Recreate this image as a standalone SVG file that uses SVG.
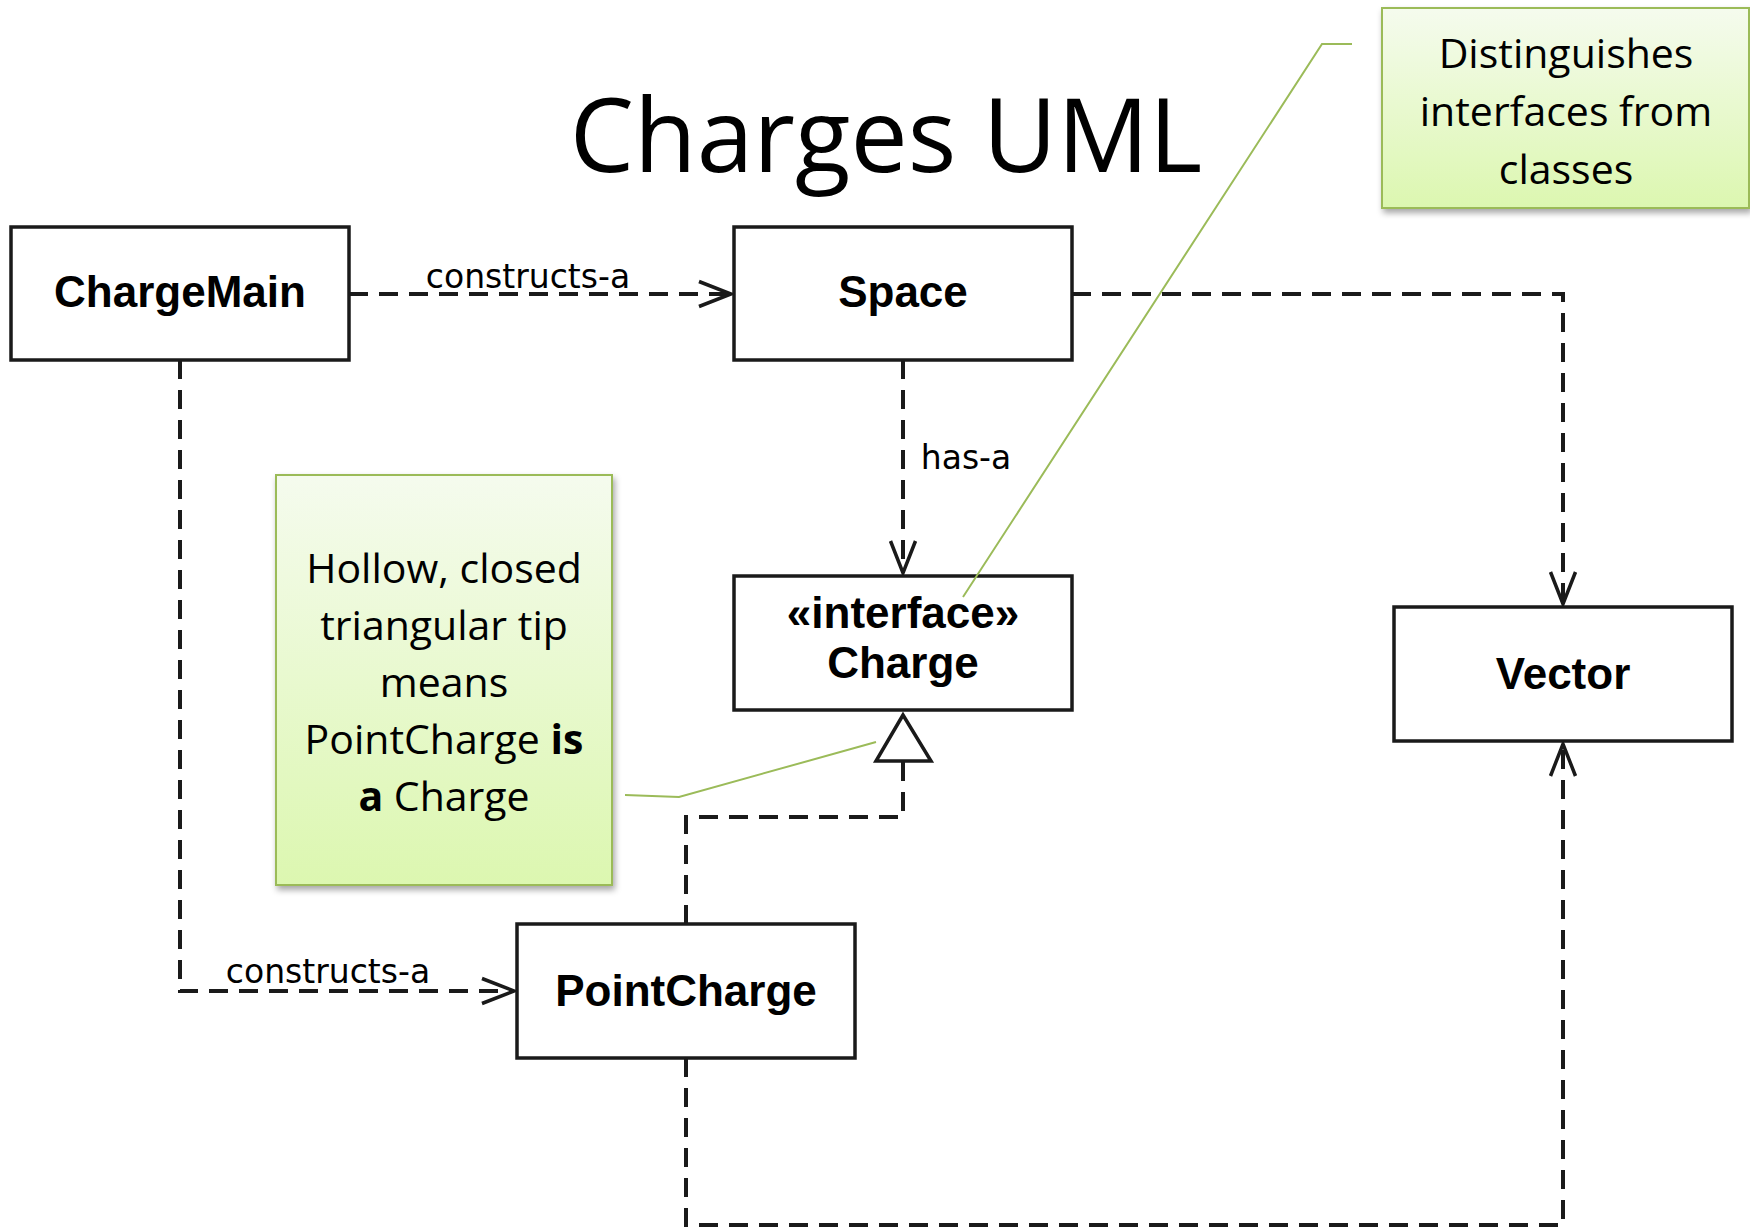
<svg xmlns="http://www.w3.org/2000/svg" width="1750" height="1230" viewBox="0 0 1750 1230">
<style>
.box{fill:#fff;stroke:#1a1a1a;stroke-width:3.5}
.cls{font-family:"Liberation Sans",Arial,sans-serif;font-weight:bold;font-size:44px;fill:#000;text-anchor:middle}
.conn{fill:none;stroke:#1a1a1a;stroke-width:4;stroke-dasharray:19 11}
.lbl{font-family:"DejaVu Sans",sans-serif;font-size:33px;fill:#000;text-anchor:middle}
.note{fill:url(#ng);stroke:#9bbb59;stroke-width:2;filter:url(#sh)}
.ntxt{font-family:"Open Sans","Liberation Sans",sans-serif;font-size:41px;fill:#000;text-anchor:middle}
.call{fill:none;stroke:#9bbb59;stroke-width:2}
</style>
<defs>
<linearGradient id="ng" x1="0" y1="0" x2="0" y2="1">
<stop offset="0" stop-color="#f5fbee"/>
<stop offset="1" stop-color="#dcf7b0"/>
</linearGradient>
<filter id="sh" x="-10%" y="-10%" width="130%" height="130%">
<feDropShadow dx="2" dy="4" stdDeviation="3" flood-color="#000" flood-opacity="0.35"/>
</filter>
<marker id="open" markerUnits="userSpaceOnUse" markerWidth="40" markerHeight="30" viewBox="-34 -15 40 30" refX="0" refY="0" orient="auto">
<path d="M-32,-12.5 L0,0 L-32,12.5" fill="none" stroke="#1a1a1a" stroke-width="3.5"/>
</marker>
</defs>
<rect width="1750" height="1230" fill="#fff"/>

<text id="title" x="886" y="172" font-family="'Open Sans','Liberation Sans',sans-serif" font-size="102" text-anchor="middle" fill="#000">Charges UML</text>

<g id="connectors">
<path class="conn" d="M349,294 H731" marker-end="url(#open)"/>
<path class="conn" d="M1072,294 H1563 V604" marker-end="url(#open)"/>
<path class="conn" d="M903,360 V573" marker-end="url(#open)"/>
<path class="conn" d="M180,360 V991 H514" marker-end="url(#open)"/>
<path class="conn" d="M686,924 V817 H903 V761"/>
<path class="conn" d="M686,1058 V1225 H1563 V744" marker-end="url(#open)"/>
<polygon points="903,715 876,761 931,761" fill="#fff" stroke="#1a1a1a" stroke-width="3.5" stroke-linejoin="miter"/>
<text class="lbl" x="528" y="288">constructs-a</text>
<text class="lbl" x="328" y="983">constructs-a</text>
<text class="lbl" x="966" y="469">has-a</text>
</g>

<g id="ChargeMain">
<rect class="box" x="11" y="227" width="338" height="133"/>
<text class="cls" x="180" y="307">ChargeMain</text>
</g>
<g id="Space">
<rect class="box" x="734" y="227" width="338" height="133"/>
<text class="cls" x="903" y="307">Space</text>
</g>
<g id="Charge">
<rect class="box" x="734" y="576" width="338" height="134"/>
<text class="cls" x="903" y="628">«interface»</text>
<text class="cls" x="903" y="678">Charge</text>
</g>
<g id="Vector">
<rect class="box" x="1394" y="607" width="338" height="134"/>
<text class="cls" x="1563" y="689">Vector</text>
</g>
<g id="PointCharge">
<rect class="box" x="517" y="924" width="338" height="134"/>
<text class="cls" x="686" y="1006">PointCharge</text>
</g>

<g id="note-interfaces">
<rect class="note" x="1382" y="8" width="367" height="200"/>
<polyline class="call" points="1352,44 1322,44 963,597"/>
<text class="ntxt" x="1566" y="68">Distinguishes</text>
<text class="ntxt" x="1566" y="126">interfaces from</text>
<text class="ntxt" x="1566" y="184">classes</text>
</g>

<g id="note-triangle">
<rect class="note" x="276" y="475" width="336" height="410"/>
<polyline class="call" points="625,795 679,797 876,742"/>
<text class="ntxt" x="444" y="583">Hollow, closed</text>
<text class="ntxt" x="444" y="640">triangular tip</text>
<text class="ntxt" x="444" y="697">means</text>
<text class="ntxt" x="444" y="754">PointCharge <tspan font-weight="bold">is</tspan></text>
<text class="ntxt" x="444" y="811"><tspan font-weight="bold">a</tspan> Charge</text>
</g>
</svg>
